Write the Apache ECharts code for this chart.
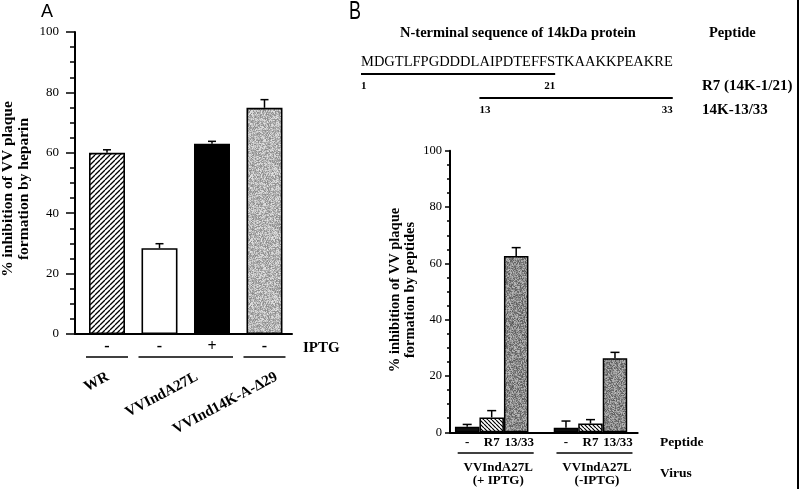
<!DOCTYPE html>
<html><head><meta charset="utf-8">
<script src="https://cdn.jsdelivr.net/npm/echarts@6/dist/echarts.min.js"></script>
<style>html,body{margin:0;padding:0;background:#fff}#c{width:800px;height:489px}</style>
</head><body><div id="c"></div>
<script>
// ---------- Panel A data ----------
const aCategories = ['WR', 'VVIndA27L', 'VVInd14K-A-Δ29'];
const aCategoryBars = [[0, 0], [1, 2], [3, 3]];   // which bars belong to each strain
const aIptg = ['-', '-', '+', '-'];
const aValues = [60, 28.4, 63, 74.9];
const aErrors = [1.0, 1.5, 0.8, 2.7];
const aYTitle = ['% inhibition of VV plaque', 'formation by heparin'];

// ---------- Panel B data ----------
const bPeptides = ['-', 'R7', '13/33'];
const bVirusLines = [['VVIndA27L', '(+ IPTG)'], ['VVIndA27L', '(-IPTG)']];
const bNone = [2.0, 1.6];
const bNoneErr = [0.8, 2.4];
const bR7 = [5.3, 3.1];
const bR7Err = [2.4, 1.4];
const b1333 = [62.6, 26.3];
const b1333Err = [3.0, 2.1];
const bYTitle = ['% inhibition of VV plaque', 'formation by peptides'];
const sequence = 'MDGTLFPGDDDLAIPDTEFFSTKAAKKPEAKRE';
const peptideRanges = [[1, 21], [13, 33]];
const peptideNames = ['R7 (14K-1/21)', '14K-13/33'];

// ---------- styling helpers ----------
const serif = '"Liberation Serif","Times New Roman",serif';
function stripe(dir, size, lw) {
  const c = document.createElement('canvas'); c.width = c.height = size;
  const g = c.getContext('2d'); g.fillStyle = '#fff'; g.fillRect(0, 0, size, size);
  g.strokeStyle = '#000'; g.lineWidth = lw; g.beginPath();
  for (let k = -1; k <= 1; k++) {
    if (dir === '/') { g.moveTo(k * size, size); g.lineTo(k * size + size, 0); }
    else { g.moveTo(k * size, 0); g.lineTo(k * size + size, size); }
  }
  g.stroke(); return c;
}
function stipple(base, spread, size) {
  const c = document.createElement('canvas'); c.width = c.height = size;
  const g = c.getContext('2d'); const img = g.createImageData(size, size);
  let s = 987654321;
  for (let i = 0; i < size * size; i++) {
    s = (s * 1103515245 + 12345) & 0x7fffffff;
    const v = Math.max(0, Math.min(255, base + ((s >> 16) % (2 * spread + 1)) - spread));
    img.data[i * 4] = img.data[i * 4 + 1] = img.data[i * 4 + 2] = v; img.data[i * 4 + 3] = 255;
  }
  g.putImageData(img, 0, 0); return c;
}
const pHatchA = { image: stripe('/', 5, 1.3), repeat: 'repeat' };
const pGrayA = { image: stipple(182, 45, 64), repeat: 'repeat' };
const pHatchB = { image: stripe('\\', 4, 1.2), repeat: 'repeat' };
const pGrayB = { image: stipple(138, 50, 64), repeat: 'repeat' };
const aFills = [pHatchA, '#ffffff', '#000000', pGrayA];

function errSeries(xi, vals, errs, offsetPx, capHalf) {
  return {
    type: 'custom', xAxisIndex: xi, yAxisIndex: xi, z: 1, silent: true,
    data: vals.map((v, i) => [i, v, v + errs[i]]),
    renderItem(params, api) {
      const p0 = api.coord([api.value(0), api.value(1)]);
      const p1 = api.coord([api.value(0), api.value(2)]);
      const x = p0[0] + offsetPx;
      return { type: 'group', children: [
        { type: 'line', shape: { x1: x, y1: p0[1], x2: x, y2: p1[1] }, style: { stroke: '#000', lineWidth: 1.5 } },
        { type: 'line', shape: { x1: x - capHalf, y1: p1[1], x2: x + capHalf, y2: p1[1] }, style: { stroke: '#000', lineWidth: 1.5 } }
      ] };
    }
  };
}
function xAx(gi, min, max) {
  return { gridIndex: gi, type: 'value', min, max,
    axisLine: { show: true, onZero: false, lineStyle: { color: '#000', width: 2 } },
    axisTick: { show: false }, axisLabel: { show: false }, splitLine: { show: false } };
}
function yAx(gi, tickLen, minorLen, fs, margin) {
  return { gridIndex: gi, type: 'value', min: 0, max: 100, interval: 20,
    axisLine: { show: true, onZero: false, lineStyle: { color: '#000', width: 2 } },
    axisTick: { show: true, length: tickLen, lineStyle: { color: '#000', width: 1.5 } },
    minorTick: { show: true, splitNumber: 4, length: minorLen, lineStyle: { color: '#000', width: 1.5 } },
    axisLabel: { color: '#000', fontFamily: serif, fontSize: fs, margin },
    splitLine: { show: false } };
}

const chart = echarts.init(document.getElementById('c'), null, { renderer: 'canvas' });
const BW = 24.5;
chart.setOption({
  animation: false,
  backgroundColor: '#fff',
  grid: [
    { left: 75, top: 32, width: 217, height: 302 },
    { left: 450, top: 150.8, width: 187.7, height: 281.5 }
  ],
  xAxis: [xAx(0, -0.6095, 3.524), xAx(1, -0.422, 1.478)],
  yAxis: [yAx(0, 9, 5, 13, 16), yAx(1, 5, 3, 12.5, 8)],
  series: [
    { type: 'bar', xAxisIndex: 0, yAxisIndex: 0, barWidth: 36, z: 2,
      data: aValues.map((v, i) => ({ value: [i, v], itemStyle: { color: aFills[i] } })),
      itemStyle: { borderColor: '#000', borderWidth: 1.6 } },
    errSeries(0, aValues, aErrors, 0, 4),
    { type: 'bar', xAxisIndex: 1, yAxisIndex: 1, barWidth: BW, barGap: '0%', z: 2,
      data: bNone.map((v, i) => [i, v]), itemStyle: { color: '#111', borderColor: '#000', borderWidth: 1.5 } },
    { type: 'bar', xAxisIndex: 1, yAxisIndex: 1, barWidth: BW, barGap: '0%', z: 2,
      data: bR7.map((v, i) => [i, v]), itemStyle: { color: pHatchB, borderColor: '#000', borderWidth: 1.5 } },
    { type: 'bar', xAxisIndex: 1, yAxisIndex: 1, barWidth: BW, barGap: '0%', z: 2,
      data: b1333.map((v, i) => [i, v]), itemStyle: { color: pGrayB, borderColor: '#000', borderWidth: 1.5 } },
    errSeries(1, bNone, bNoneErr, -BW, 4.5),
    errSeries(1, bR7, bR7Err, 0, 4.5),
    errSeries(1, b1333, b1333Err, BW, 4.5)
  ]
});

// ---------- annotations ----------
const g = [];
function txt(x, y, text, font, align, valign, extra) {
  g.push(Object.assign({ type: 'text', x, y, silent: true,
    style: { text, font, fill: '#000', align: align || 'left', verticalAlign: valign || 'middle',
             textAlign: align || 'left', textVerticalAlign: valign || 'middle' } }, extra || {}));
}
function line(x1, y1, x2, y2, w) {
  g.push({ type: 'line', silent: true, shape: { x1, y1, x2, y2 }, style: { stroke: '#000', lineWidth: w || 1.5 } });
}
const px = (gi, i) => chart.convertToPixel({ gridIndex: gi }, [i, 0])[0];

// Panel A
txt(47, 12, 'A', '18px "Liberation Sans",sans-serif', 'center', 'middle');
txt(16, 189, aYTitle.join('\n'), 'bold 15.5px ' + serif, 'center', 'middle', { rotation: Math.PI / 2 });
aIptg.forEach((s, i) => txt(px(0, i), 347, s, 'bold 16px ' + serif, 'center', 'middle'));
txt(303, 348, 'IPTG', 'bold 15px ' + serif, 'left', 'middle');
const labelShift = [1, -15, 12];
aCategoryBars.forEach((r, k) => {
  const a = px(0, r[0]), b = px(0, r[1]);
  line(a - 21, 357, b + 21, 357, 1.5);
  txt(b + labelShift[k], 376, aCategories[k], 'bold 15px ' + serif, 'right', 'middle', { rotation: 28 * Math.PI / 180 });
});

// Panel B header
txt(355, 12, 'B', '25px "Liberation Sans",sans-serif', 'center', 'middle', { scaleX: 0.72 });
txt(400, 33, 'N-terminal sequence of 14kDa protein', 'bold 14.5px ' + serif, 'left', 'middle');
txt(709, 33, 'Peptide', 'bold 14.5px ' + serif, 'left', 'middle');
const seqFont = '14.5px ' + serif;
txt(361, 62, sequence, seqFont, 'left', 'middle');
const mc = document.createElement('canvas').getContext('2d'); mc.font = seqFont;
const seqX = n => 361 + mc.measureText(sequence.slice(0, n)).width;
peptideRanges.forEach((r, k) => {
  const x1 = seqX(r[0] - 1), x2 = seqX(r[1]);
  const ly = 74 + k * 24;
  line(x1, ly, x2, ly, 2);
  txt(x1, ly + 12, String(r[0]), 'bold 11px ' + serif, 'left', 'middle');
  txt(x2, ly + 12, String(r[1]), 'bold 11px ' + serif, 'right', 'middle');
  txt(702, ly + 12, peptideNames[k], 'bold 15px ' + serif, 'left', 'middle');
});

// Panel B lower labels
txt(403, 290, bYTitle.join('\n'), 'bold 14.5px ' + serif, 'center', 'middle', { rotation: Math.PI / 2 });
[0, 1].forEach(gIdx => {
  const c = px(1, gIdx);
  bPeptides.forEach((p, j) => txt(c + (j - 1) * BW + (j === 2 ? 3 : 0), 443, p, 'bold 13px ' + serif, 'center', 'middle'));
  line(c - 34, 453, c + 42, 453, 1.5);
  txt(c + 6.5, 474, bVirusLines[gIdx].join('\n'), 'bold 13px ' + serif, 'center', 'middle');
});
txt(660, 443, 'Peptide', 'bold 13.5px ' + serif, 'left', 'middle');
txt(660, 474, 'Virus', 'bold 13.5px ' + serif, 'left', 'middle');

// right border
line(798, 0, 798, 489, 2);

chart.setOption({ graphic: { elements: g } });
</script></body></html>
